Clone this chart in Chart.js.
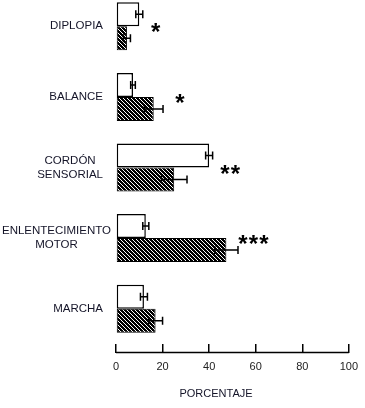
<!DOCTYPE html>
<html lang="es">
<head>
  <meta charset="UTF-8">
  <title>Porcentaje</title>
  <script src="https://cdn.jsdelivr.net/npm/chart.js"></script>
  <style>
    html, body { margin: 0; padding: 0; background: #fff; overflow: hidden; }
    /* the plot starts a little above the page edge, like the scan */
    .chart-box { width: 365px; height: 417px; margin-top: -9px; }
  </style>
</head>
<body>

<div class="chart-box">
  <canvas id="barChart"></canvas>
</div>

<script>
  const categories = [['DIPLOPIA'], ['BALANCE'], ['CORDÓN', 'SENSORIAL'], ['ENLENTECIMIENTO', 'MOTOR'], ['MARCHA']];
  const openValues = [10, 7.3, 40, 12.8, 12];
  const openErrors = [1.5, 1, 1.5, 1.3, 1.5];
  const hatchValues = [4.7, 16.2, 25, 47.4, 17];
  const hatchErrors = [1.5, 4, 5.5, 5, 3];
  const stars = ['*', '*', '**', '***', ''];
  const starPos = [17, 27.5, 49, 59, 0];
  const xTicks = [0, 20, 40, 60, 80, 100];
  const axisTitle = 'PORCENTAJE';

  // diagonal hatch fill
  function makeHatch() {
    const c = document.createElement('canvas');
    c.width = 4; c.height = 4;
    const g = c.getContext('2d');
    g.fillStyle = '#000';
    g.fillRect(0, 0, 4, 4);
    g.strokeStyle = '#fff';
    g.lineWidth = 1;
    g.beginPath();
    g.moveTo(-1, -1); g.lineTo(5, 5);
    g.moveTo(-1, 3); g.lineTo(1, 5);
    g.moveTo(3, -1); g.lineTo(5, 1);
    g.stroke();
    return g.createPattern(c, 'repeat');
  }

  const extras = {
    id: 'extras',
    afterDatasetsDraw(chart) {
      const ctx = chart.ctx;
      const x = chart.scales.x;
      const y = chart.scales.y;
      ctx.save();
      ctx.strokeStyle = '#000';
      ctx.lineWidth = 1.5;

      // error bars
      [[openValues, openErrors], [hatchValues, hatchErrors]].forEach((pair, d) => {
        chart.getDatasetMeta(d).data.forEach((bar, i) => {
          const x1 = x.getPixelForValue(pair[0][i] - pair[1][i]);
          const x2 = x.getPixelForValue(pair[0][i] + pair[1][i]);
          ctx.beginPath();
          ctx.moveTo(x1, bar.y); ctx.lineTo(x2, bar.y);
          ctx.moveTo(x1, bar.y - 4); ctx.lineTo(x1, bar.y + 4);
          ctx.moveTo(x2, bar.y - 4); ctx.lineTo(x2, bar.y + 4);
          ctx.stroke();
        });
      });

      // axis line under the tick marks
      const axisY = chart.chartArea.bottom + 8.5;
      ctx.beginPath();
      ctx.moveTo(x.left, axisY);
      ctx.lineTo(x.right, axisY);
      ctx.stroke();

      // category labels
      ctx.fillStyle = '#141428';
      ctx.font = '11.5px "Liberation Sans", Arial, sans-serif';
      ctx.textAlign = 'center';
      ctx.textBaseline = 'middle';
      categories.forEach((lines, i) => {
        const cy = y.getPixelForValue(i);
        const w = Math.max(...lines.map(l => ctx.measureText(l).width));
        const right = Math.max(103, w + 2);
        const cx = right - w / 2;
        lines.forEach((l, k) => {
          ctx.fillText(l, cx, cy + (k - (lines.length - 1) / 2) * 14);
        });
      });

      // significance marks
      ctx.fillStyle = '#000';
      ctx.font = 'bold 24px "Liberation Sans", Arial, sans-serif';
      ctx.textBaseline = 'alphabetic';
      stars.forEach((s, i) => {
        if (!s) return;
        const cy = y.getPixelForValue(i);
        const cx = x.getPixelForValue(starPos[i]);
        for (let k = 0; k < s.length; k++) {
          ctx.fillText('*', cx + (k - (s.length - 1) / 2) * 10.5, cy + 14);
        }
      });

      // axis title
      ctx.fillStyle = '#141428';
      ctx.font = '11px "Liberation Sans", Arial, sans-serif';
      ctx.textBaseline = 'middle';
      ctx.fillText(axisTitle, 216, chart.chartArea.bottom + 50);
      ctx.restore();
    }
  };

  const barChartCtx = document.getElementById('barChart').getContext('2d');
  new Chart(barChartCtx, {
    type: 'bar',
    data: {
      labels: categories,
      datasets: [{
        data: openValues,
        backgroundColor: '#fff',
        borderColor: '#000',
        borderWidth: 1.5,
        borderSkipped: false
      }, {
        data: hatchValues,
        backgroundColor: makeHatch(),
        borderColor: '#000',
        borderWidth: 1,
        borderSkipped: false
      }]
    },
    options: {
      indexAxis: 'y',
      responsive: true,
      maintainAspectRatio: false,
      animation: false,
      categoryPercentage: 0.68,
      barPercentage: 1,
      layout: { padding: { left: 116, right: 15, top: 0, bottom: 0 } },
      plugins: { legend: { display: false }, tooltip: { enabled: false } },
      scales: {
        y: { display: false, offset: true },
        x: {
          min: 0,
          max: 100,
          afterFit(scale) { scale.height = 64; },
          afterBuildTicks(scale) { scale.ticks = xTicks.map(v => ({ value: v })); },
          grid: { drawOnChartArea: false, tickLength: 9, color: '#000', lineWidth: 1.5 },
          border: { display: false },
          ticks: {
            padding: 7,
            color: '#222',
            font: { family: '"Liberation Sans", Arial, sans-serif', size: 11 }
          }
        }
      }
    },
    plugins: [extras]
  });
</script>

</body>
</html>
